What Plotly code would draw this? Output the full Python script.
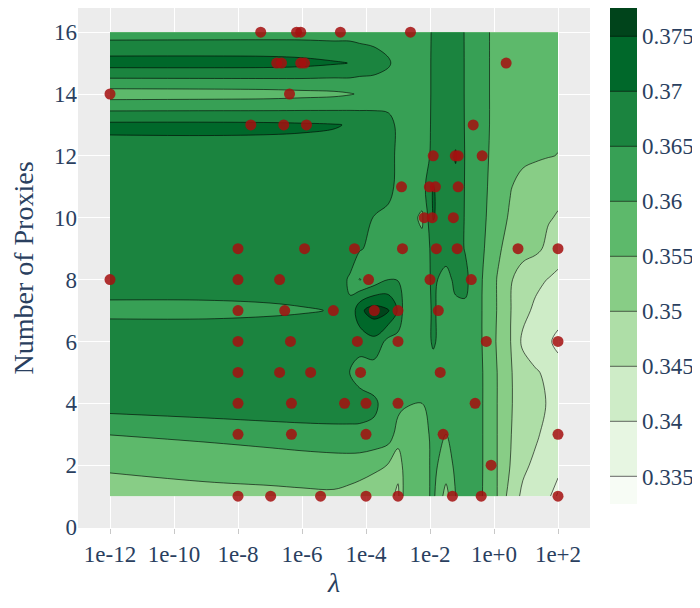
import plotly.graph_objects as go

# ---------------- trials (scatter markers) ----------------
# log10(lambda) of each trial, listed by number of proxies (1 .. 16)
trial_log10_lambda = [
    -8, -6.98, -5.42, -4.0, -3.0, -1.30, -0.40, 2.0,      # 1
    -0.09,                                                # 2
    -8, -6.33, -4.0, -1.59, 2.0,                          # 3
    -8, -6.33, -4.67, -4.0, -3.0, -0.59,                  # 4
    -8, -6.70, -5.73, -4.17, -1.68,                       # 5
    -8, -6.36, -4.27, -3.0, -0.24, 2.0,                   # 6
    -8, -6.54, -5.02, -3.74, -3.0, -1.74,                 # 7
    -12, -8, -6.70, -3.92, -2.0, -0.71,                   # 8
    -8, -5.92, -4.36, -2.86, -1.80, -1.15, 0.75, 2.0,     # 9
    -2.18, -1.93, -1.27,                                  # 10
    -2.89, -2.02, -1.83, -1.12,                           # 11
    -1.90, -1.21, -1.12, -0.37,                           # 12
    -7.60, -6.57, -5.86, -0.65,                           # 13
    -12, -6.39,                                           # 14
    -6.79, -6.64, -6.04, -5.92, 0.38,                     # 15
    -7.29, -6.17, -6.04, -4.80, -2.61,                    # 16
]
trial_proxies = [
    1, 1, 1, 1, 1, 1, 1, 1,
    2,
    3, 3, 3, 3, 3,
    4, 4, 4, 4, 4, 4,
    5, 5, 5, 5, 5,
    6, 6, 6, 6, 6, 6,
    7, 7, 7, 7, 7, 7,
    8, 8, 8, 8, 8, 8,
    9, 9, 9, 9, 9, 9, 9, 9,
    10, 10, 10,
    11, 11, 11, 11,
    12, 12, 12, 12,
    13, 13, 13, 13,
    14, 14,
    15, 15, 15, 15, 15,
    16, 16, 16, 16, 16,
]

# ---------------- score surface (contour) ----------------
grid_log10_lambda = [-12, -9, -7, -6, -5, -4.5, -4.2, -3.75, -3.3, -3.0, -2.8, -2.25,
                     -1.9, -1.5, -1.2, -0.9, -0.6, -0.3, 0.1, 0.5, 0.9, 1.3, 1.7, 2.0]
grid_proxies = [1, 2, 3, 4, 5, 6, 7, 8, 9, 10, 11, 12, 13, 14, 15, 16]

score_p01 = [0.3535, 0.3537, 0.3540, 0.3542, 0.3543, 0.3535, 0.3528, 0.3522, 0.3515, 0.3490, 0.3565, 0.3578,
             0.3610, 0.3530, 0.3600, 0.3612, 0.3612, 0.3597, 0.3550, 0.3480, 0.3440, 0.3420, 0.3418, 0.3336]
score_p02 = [0.3555, 0.3565, 0.3569, 0.3572, 0.3575, 0.3575, 0.3572, 0.3560, 0.3548, 0.3515, 0.3568, 0.3578,
             0.3610, 0.3580, 0.3608, 0.3615, 0.3615, 0.3597, 0.3550, 0.3500, 0.3460, 0.3440, 0.3425, 0.3445]
score_p03 = [0.3601, 0.3612, 0.3624, 0.3632, 0.3638, 0.3640, 0.3642, 0.3640, 0.3625, 0.3580, 0.3575, 0.3580,
             0.3612, 0.3600, 0.3615, 0.3618, 0.3615, 0.3597, 0.3550, 0.3503, 0.3475, 0.3457, 0.3435, 0.3420]
score_p04 = [0.3674, 0.3684, 0.3686, 0.3681, 0.3674, 0.3670, 0.3665, 0.3658, 0.3630, 0.3615, 0.3605, 0.3600,
             0.3615, 0.3620, 0.3620, 0.3620, 0.3615, 0.3597, 0.3550, 0.3505, 0.3478, 0.3462, 0.3447, 0.3435]
score_p05 = [0.3680, 0.3682, 0.3685, 0.3685, 0.3670, 0.3648, 0.3635, 0.3625, 0.3628, 0.3626, 0.3625, 0.3625,
             0.3635, 0.3625, 0.3622, 0.3620, 0.3615, 0.3597, 0.3550, 0.3505, 0.3475, 0.3455, 0.3440, 0.3425]
score_p06 = [0.3685, 0.3685, 0.3685, 0.3685, 0.3685, 0.3680, 0.3665, 0.3685, 0.3635, 0.3630, 0.3628, 0.3627,
             0.3655, 0.3630, 0.3628, 0.3625, 0.3615, 0.3595, 0.3545, 0.3503, 0.3440, 0.3420, 0.3408, 0.3385]
score_p07 = [0.3637, 0.3637, 0.3642, 0.3646, 0.3652, 0.3655, 0.3738, 0.3775, 0.3753, 0.3695, 0.3630, 0.3628,
             0.3655, 0.3632, 0.3640, 0.3640, 0.3615, 0.3595, 0.3548, 0.3503, 0.3465, 0.3440, 0.3430, 0.3425]
score_p08 = [0.3675, 0.3676, 0.3675, 0.3678, 0.3672, 0.3645, 0.3598, 0.3620, 0.3650, 0.3648, 0.3630, 0.3628,
             0.3658, 0.3635, 0.3660, 0.3665, 0.3618, 0.3595, 0.3548, 0.3505, 0.3480, 0.3462, 0.3448, 0.3440]
score_p09 = [0.3680, 0.3680, 0.3680, 0.3680, 0.3680, 0.3670, 0.3655, 0.3635, 0.3630, 0.3628, 0.3627, 0.3615,
             0.3665, 0.3670, 0.3672, 0.3647, 0.3622, 0.3600, 0.3560, 0.3530, 0.3515, 0.3510, 0.3490, 0.3470]
score_p10 = [0.3685, 0.3685, 0.3685, 0.3685, 0.3685, 0.3683, 0.3670, 0.3648, 0.3638, 0.3630, 0.3625, 0.3592,
             0.3703, 0.3672, 0.3675, 0.3647, 0.3625, 0.3605, 0.3570, 0.3545, 0.3525, 0.3512, 0.3503, 0.3497]
score_p11 = [0.3690, 0.3690, 0.3690, 0.3690, 0.3690, 0.3685, 0.3682, 0.3675, 0.3665, 0.3638, 0.3628, 0.3628,
             0.3702, 0.3672, 0.3685, 0.3647, 0.3625, 0.3608, 0.3575, 0.3553, 0.3535, 0.3525, 0.3515, 0.3510]
score_p12 = [0.3675, 0.3677, 0.3678, 0.3680, 0.3680, 0.3680, 0.3680, 0.3678, 0.3668, 0.3640, 0.3630, 0.3628,
             0.3660, 0.3672, 0.3705, 0.3647, 0.3625, 0.3610, 0.3580, 0.3570, 0.3560, 0.3556, 0.3552, 0.3549]
score_p13 = [0.3712, 0.3712, 0.3710, 0.3707, 0.3703, 0.3697, 0.3690, 0.3680, 0.3668, 0.3640, 0.3630, 0.3628,
             0.3657, 0.3672, 0.3680, 0.3647, 0.3625, 0.3610, 0.3585, 0.3578, 0.3572, 0.3567, 0.3562, 0.3558]
score_p14 = [0.3575, 0.3577, 0.3580, 0.3585, 0.3590, 0.3597, 0.3604, 0.3615, 0.3622, 0.3625, 0.3627, 0.3628,
             0.3656, 0.3670, 0.3675, 0.3647, 0.3625, 0.3610, 0.3585, 0.3580, 0.3575, 0.3572, 0.3570, 0.3568]
score_p15 = [0.3722, 0.3722, 0.3720, 0.3715, 0.3705, 0.3699, 0.3685, 0.3672, 0.3655, 0.3635, 0.3628, 0.3628,
             0.3656, 0.3670, 0.3675, 0.3647, 0.3625, 0.3610, 0.3585, 0.3580, 0.3575, 0.3572, 0.3570, 0.3568]
score_p16 = [0.3625, 0.3626, 0.3627, 0.3628, 0.3628, 0.3630, 0.3630, 0.3630, 0.3628, 0.3625, 0.3627, 0.3628,
             0.3655, 0.3668, 0.3672, 0.3647, 0.3625, 0.3610, 0.3585, 0.3580, 0.3575, 0.3572, 0.3570, 0.3568]

score_rows = [score_p01, score_p02, score_p03, score_p04, score_p05, score_p06, score_p07, score_p08,
              score_p09, score_p10, score_p11, score_p12, score_p13, score_p14, score_p15, score_p16]

tick_exponents = [-12, -10, -8, -6, -4, -2, 0, 2]
tick_labels = ["1e-12", "1e-10", "1e-8", "1e-6", "1e-4", "1e-2", "1e+0", "1e+2"]

FONT = "Liberation Serif, Times New Roman, serif"
TXT = "#2a3f5f"

fig = go.Figure()
fig.add_trace(go.Contour(
    x=[10 ** e for e in grid_log10_lambda],
    y=grid_proxies,
    z=score_rows,
    colorscale="Greens",
    autocontour=False,
    contours=dict(start=0.335, end=0.375, size=0.005),
    line=dict(width=0.6),
    colorbar=dict(
        thickness=27, lenmode="pixels", len=496, ypad=0, y=1.0, yanchor="top",
        outlinewidth=0, tickfont=dict(family=FONT, size=23, color=TXT),
    ),
))
fig.add_trace(go.Scatter(
    x=[10 ** e for e in trial_log10_lambda], y=trial_proxies, mode="markers",
    marker=dict(size=11, color="rgb(165,15,15)", opacity=0.85),
    showlegend=False,
))

fig.update_layout(
    width=700, height=608,
    margin=dict(l=70, r=118, t=0, b=88),
    paper_bgcolor="white", plot_bgcolor="rgb(236,236,236)",
    font=dict(family=FONT, size=23, color=TXT),
    showlegend=False,
)
fig.update_xaxes(
    type="log", range=[-13, 3],
    tickvals=[10 ** e for e in tick_exponents], ticktext=tick_labels,
    ticks="outside", ticklen=5, tickcolor="rgb(200,200,200)",
    gridcolor="white", gridwidth=1, zeroline=False, showline=False,
    title=dict(text="<i>λ</i>", font=dict(size=28), standoff=6),
)
fig.update_yaxes(
    range=[-0.03, 16.78], dtick=2,
    gridcolor="white", gridwidth=1, zeroline=False, showline=False,
    title=dict(text="Number of Proxies", font=dict(size=28)),
)

fig.write_html("out.html")
